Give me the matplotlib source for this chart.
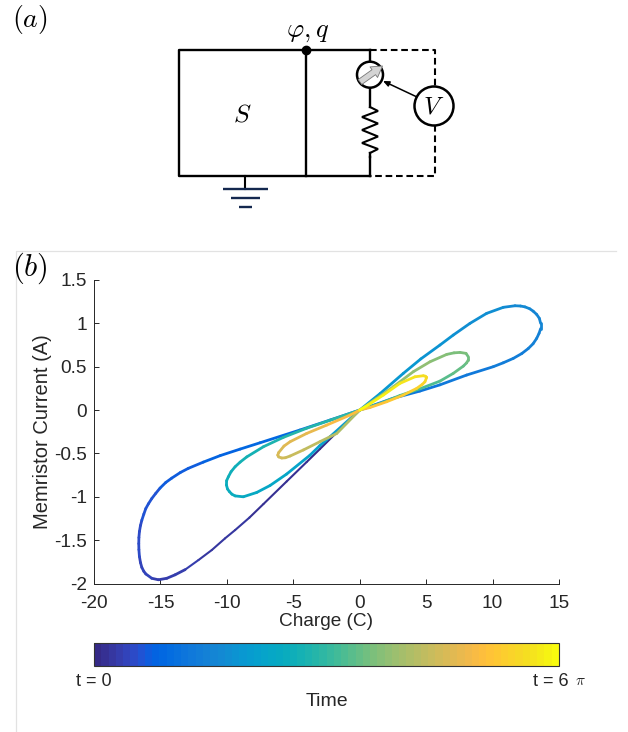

# Memristor pinched hysteresis: circuit sketch (a) and charge/current loop (b)
import numpy as np
import matplotlib
matplotlib.use("Agg")
import matplotlib.pyplot as plt
from matplotlib.cm import ScalarMappable
from matplotlib.collections import LineCollection
from matplotlib.colors import ListedColormap, Normalize
from matplotlib.patches import Circle

plt.rcParams['font.family'] = ['Liberation Sans', 'DejaVu Sans']
plt.rcParams['mathtext.fontset'] = 'cm'

# first half turn, big loop lower left
q1 = [0, -1.5, -3, -4, -5.5, -7.25, -8.3, -9.38, -10.14, -11.14, -12.14, -13.14, -13.9, -14.52, -15.15,
      -15.65, -16.1, -16.25, -16.4, -16.5, -16.58, -16.62, -16.63, -16.62, -16.58, -16.5, -16.4, -16.25,
      -16.1, -15.9, -15.65, -15.35, -15.03, -14.6, -14.15, -13.5, -12.9, -11.77, -10.5, -9, -7.5, -4.5, -2.23, 0]
i1 = [0, -0.223, -0.45, -0.6, -0.823, -1.084, -1.24, -1.384, -1.48, -1.615, -1.73, -1.84, -1.9, -1.94, -1.957,
      -1.94, -1.89, -1.86, -1.815, -1.76, -1.69, -1.61, -1.54, -1.47, -1.4, -1.33, -1.27, -1.2,
      -1.135, -1.08, -1.02, -0.96, -0.9, -0.835, -0.785, -0.72, -0.672, -0.6, -0.525, -0.45, -0.377, -0.23, -0.115, 0]
t1 = [0, 0.03, 0.06, 0.09, 0.12, 0.16, 0.18, 0.2, 0.22, 0.24, 0.27, 0.3, 0.32, 0.34, 0.36,
      0.38, 0.41, 0.42, 0.43, 0.45, 0.46, 0.48, 0.5, 0.51, 0.53, 0.54, 0.56, 0.57,
      0.59, 0.6, 0.62, 0.63, 0.65, 0.67, 0.68, 0.7, 0.72, 0.75, 0.79, 0.83, 0.87, 0.92, 0.96, 1]

# second half turn, big loop upper right
q2 = [2.5, 4.53, 6.04, 8.05, 10.05, 10.8, 11.56, 12.2, 12.69, 13.05, 13.32, 13.5, 13.62, 13.62, 13.52, 13.32,
      13.06, 12.8, 12.44, 12.1, 11.69, 10.81, 9.55, 8.3, 7.04, 6.04, 4.6, 3.28, 1.53, 0]
i2 = [0.135, 0.219, 0.291, 0.404, 0.5, 0.545, 0.596, 0.652, 0.71, 0.765, 0.827, 0.885, 0.94, 1.0, 1.058, 1.103,
      1.14, 1.168, 1.19, 1.2, 1.203, 1.185, 1.115, 1.0, 0.865, 0.75, 0.59, 0.423, 0.19, 0]
t2 = [1.1, 1.17, 1.22, 1.28, 1.33, 1.35, 1.37, 1.39, 1.41, 1.43, 1.45, 1.47, 1.5, 1.52, 1.54, 1.56,
      1.58, 1.59, 1.61, 1.62, 1.64, 1.67, 1.71, 1.75, 1.79, 1.82, 1.86, 1.9, 1.96, 2]

# third half turn, middle loop lower left
q3 = [-2.23, -3, -3.74, -5.5, -6.75, -7.75, -8.76, -9.38, -9.62, -9.81, -9.95, -10.03, -10.02, -9.89, -9.68,
      -9.38, -9, -8.5, -7.25, -5.75, -4, -1.98, 0]
i3 = [-0.307, -0.41, -0.52, -0.738, -0.87, -0.95, -1.0, -0.99, -0.97, -0.94, -0.91, -0.865, -0.815, -0.77, -0.71,
      -0.654, -0.6, -0.54, -0.423, -0.315, -0.21, -0.104, 0]
t3 = [2.1, 2.14, 2.17, 2.25, 2.31, 2.36, 2.41, 2.45, 2.46, 2.48, 2.5, 2.51, 2.53, 2.55, 2.58,
      2.6, 2.63, 2.66, 2.72, 2.79, 2.86, 2.93, 3]

# fourth half turn, middle loop upper right
q4 = [1.53, 3.03, 4.53, 6.04, 7.04, 7.8, 8.05, 8.17, 8.17, 8.0, 7.55, 7.1, 6.55, 5.29, 4.03, 2.53, 1.28, 0]
i4 = [0.077, 0.168, 0.245, 0.334, 0.423, 0.507, 0.545, 0.577, 0.615, 0.654, 0.665, 0.66, 0.642, 0.557, 0.442, 0.269, 0.135, 0]
t4 = [3.07, 3.14, 3.22, 3.3, 3.37, 3.43, 3.46, 3.48, 3.51, 3.55, 3.59, 3.62, 3.65, 3.72, 3.79, 3.87, 3.94, 4]

# fifth half turn, small loop lower left
q5 = [-1.73, -3, -4.24, -5.24, -5.6, -5.87, -6.1, -6.17, -6.1, -5.7, -5.24, -4, -2.48, -0.73, 0]
i5 = [-0.27, -0.365, -0.46, -0.53, -0.55, -0.553, -0.54, -0.52, -0.49, -0.415, -0.365, -0.27, -0.173, -0.058, 0]
t5 = [4.12, 4.2, 4.29, 4.38, 4.42, 4.45, 4.48, 4.5, 4.52, 4.58, 4.63, 4.72, 4.83, 4.95, 5]

# last half turn, small loop upper right
q6 = [0.78, 2.03, 3.28, 4.29, 4.7, 4.91, 5.04, 4.95, 4.79, 4.16, 3.03, 1.78, 0.63, 0]
i6 = [0.03, 0.096, 0.173, 0.25, 0.295, 0.326, 0.377, 0.39, 0.396, 0.384, 0.308, 0.173, 0.058, 0]
t6 = [5.05, 5.15, 5.25, 5.35, 5.4, 5.44, 5.5, 5.53, 5.55, 5.62, 5.72, 5.83, 5.94, 6]

x_ticks = [-20, -15, -10, -5, 0, 5, 10, 15]
x_tick_labels = ['-20', '-15', '-10', '-5', '0', '5', '10', '15']
y_ticks = [-2, -1.5, -1, -0.5, 0, 0.5, 1, 1.5]
y_tick_labels = ['-2', '-1.5', '-1', '-0.5', '0', '0.5', '1', '1.5']

# colormap of the time bar, 64 levels
parula = [
    (0.2081, 0.1663, 0.5292), (0.2116, 0.1898, 0.5777), (0.2123, 0.2138, 0.6270), (0.2081, 0.2386, 0.6771),
    (0.1959, 0.2645, 0.7279), (0.1707, 0.2919, 0.7792), (0.1253, 0.3242, 0.8303), (0.0591, 0.3598, 0.8683),
    (0.0117, 0.3875, 0.8820), (0.0060, 0.4086, 0.8828), (0.0165, 0.4266, 0.8786), (0.0329, 0.4430, 0.8720),
    (0.0498, 0.4586, 0.8641), (0.0629, 0.4737, 0.8554), (0.0723, 0.4887, 0.8467), (0.0779, 0.5040, 0.8384),
    (0.0793, 0.5200, 0.8312), (0.0749, 0.5375, 0.8263), (0.0641, 0.5570, 0.8240), (0.0488, 0.5772, 0.8228),
    (0.0343, 0.5966, 0.8199), (0.0265, 0.6137, 0.8135), (0.0239, 0.6287, 0.8038), (0.0231, 0.6418, 0.7913),
    (0.0228, 0.6535, 0.7768), (0.0267, 0.6642, 0.7607), (0.0384, 0.6743, 0.7436), (0.0590, 0.6838, 0.7254),
    (0.0843, 0.6928, 0.7062), (0.1133, 0.7015, 0.6859), (0.1453, 0.7098, 0.6646), (0.1801, 0.7177, 0.6424),
    (0.2178, 0.7250, 0.6193), (0.2586, 0.7317, 0.5954), (0.3022, 0.7376, 0.5712), (0.3482, 0.7424, 0.5473),
    (0.3953, 0.7459, 0.5244), (0.4420, 0.7481, 0.5033), (0.4871, 0.7491, 0.4840), (0.5300, 0.7491, 0.4661),
    (0.5709, 0.7485, 0.4494), (0.6099, 0.7473, 0.4337), (0.6473, 0.7456, 0.4188), (0.6834, 0.7435, 0.4044),
    (0.7184, 0.7411, 0.3905), (0.7525, 0.7384, 0.3768), (0.7858, 0.7356, 0.3633), (0.8185, 0.7327, 0.3498),
    (0.8507, 0.7299, 0.3360), (0.8824, 0.7274, 0.3217), (0.9139, 0.7258, 0.3063), (0.9450, 0.7261, 0.2886),
    (0.9739, 0.7314, 0.2666), (0.9938, 0.7455, 0.2403), (0.9990, 0.7653, 0.2164), (0.9955, 0.7861, 0.1967),
    (0.9880, 0.8066, 0.1794), (0.9789, 0.8271, 0.1633), (0.9697, 0.8481, 0.1475), (0.9626, 0.8705, 0.1309),
    (0.9589, 0.8949, 0.1132), (0.9598, 0.9218, 0.0948), (0.9661, 0.9514, 0.0755), (0.9763, 0.9831, 0.0538),
]
cmap = ListedColormap(parula)
norm = Normalize(0, 6)

W, H = 628, 732
DARK = '#262626'
fig = plt.figure(figsize=(W / 100, H / 100), dpi=100)


def px_axes(left, top, right, bottom):
    return fig.add_axes([left / W, 1 - bottom / H, (right - left) / W, (bottom - top) / H])


# page layer in pixel coordinates, holds the circuit and the free labels
page = fig.add_axes([0, 0, 1, 1])
page.set_xlim(0, W)
page.set_ylim(H, 0)
page.axis('off')

page.plot([616, 16, 16], [251, 251, H], color='#e2e2e2', lw=0.9)

wire = dict(color='black', lw=1.7, solid_capstyle='projecting')
page.plot([370, 179, 179, 370], [49.5, 49.5, 175.5, 175.5], **wire)
page.plot([306, 306], [49.5, 175.5], **wire)
page.plot([370, 370], [49.5, 62], **wire)
page.plot([370, 370], [87, 107], **wire)
page.plot([370, 370], [157, 175.5], **wire)
zig_x = [370, 378, 362, 378, 362, 378, 362, 378, 370]
zig_y = [107, 111, 117, 123.5, 130, 136.5, 143, 149, 153]
page.plot(zig_x, zig_y, color='black', lw=1.5, solid_joinstyle='miter')
page.plot([370, 370], [153, 157], **wire)

dash = dict(color='black', lw=1.5, ls=(0, (3.2, 1.8)))
page.plot([370, 434.5, 434.5], [49.5, 49.5, 87], **dash)
page.plot([434.5, 434.5, 370], [125, 175.5, 175.5], **dash)

page.scatter([306], [49.5], s=36, color='black', zorder=5)

page.add_patch(Circle((370, 74.7), 13, fc='white', ec='black', lw=1.8, zorder=3))
page.add_patch(Circle((434, 106), 19.5, fc='white', ec='black', lw=1.8, zorder=3))
page.annotate('', xy=(382.5, 66), xytext=(360, 82), zorder=4,
              arrowprops=dict(arrowstyle='simple,head_width=0.85,head_length=0.7,tail_width=0.4',
                              mutation_scale=11, fc='#d4d4d4', ec='#777777', lw=0.6, shrinkA=0, shrinkB=0))
page.annotate('', xy=(383, 81), xytext=(417, 97), zorder=4,
              arrowprops=dict(arrowstyle='-|>,head_width=0.16,head_length=0.36', color='black', lw=1.1,
                              shrinkA=0, shrinkB=0))

page.plot([245.3, 245.3], [175.5, 188.7], color='black', lw=1.5)
for gy, gx0, gx1 in [(188.7, 223, 268), (198, 231, 259.5), (207, 238.7, 251.7)]:
    page.plot([gx0, gx1], [gy, gy], color='#14284f', lw=1.7, solid_capstyle='butt')

page.text(30, 19, r'$(a)$', fontsize=20, ha='center', va='center')
page.text(30, 268, r'$(b)$', fontsize=22, ha='center', va='center')
page.text(307.5, 32, r'$\varphi,q$', fontsize=19, ha='center', va='center')
page.text(242, 115, r'$S$', fontsize=18.5, ha='center', va='center')
page.text(434, 106, r'$V$', fontsize=18, ha='center', va='center', zorder=5)

# loop plot
ax = px_axes(94, 280, 559, 583.5)
q = np.array(q1 + q2 + q3 + q4 + q5 + q6, dtype=float)
cur = np.array(i1 + i2 + i3 + i4 + i5 + i6, dtype=float)
time = np.array(t1 + t2 + t3 + t4 + t5 + t6, dtype=float)
pts = np.column_stack([q, cur])
segs = np.stack([pts[:-1], pts[1:]], axis=1)
seg_time = 0.5 * (time[:-1] + time[1:])
# the line starts out thinner than the rest
widths = np.where(seg_time < 0.3, 1.5, 2.0)
lc = LineCollection(segs, cmap=cmap, norm=norm, linewidths=widths, capstyle='round', joinstyle='round')
lc.set_array(seg_time)
ax.add_collection(lc)

ax.set_xlim(-20, 15)
ax.set_ylim(-2, 1.5)
ax.set_xticks(x_ticks)
ax.set_xticklabels(x_tick_labels)
ax.set_yticks(y_ticks)
ax.set_yticklabels(y_tick_labels)
ax.spines['top'].set_visible(False)
ax.spines['right'].set_visible(False)
for side in ['left', 'bottom']:
    ax.spines[side].set_color(DARK)
    ax.spines[side].set_linewidth(0.7)
ax.tick_params(direction='in', length=3.6, width=0.7, color=DARK, labelcolor=DARK, labelsize=13.7)
ax.tick_params(axis='x', pad=8)
ax.tick_params(axis='y', pad=5)
ax.patch.set_alpha(0)

page.text(326, 621, 'Charge (C)', fontsize=13.7, color=DARK, ha='center', va='center')
page.text(43, 432, 'Memristor Current (A)', fontsize=14.5, color=DARK, ha='center', va='center', rotation=90)

# time bar
cax = px_axes(94, 643, 559, 666)
cb = fig.colorbar(ScalarMappable(norm=norm, cmap=cmap), cax=cax, orientation='horizontal')
cb.set_ticks([])
cb.outline.set_edgecolor('#333333')
cb.outline.set_linewidth(0.8)

page.text(94, 681.5, 't = 0', fontsize=13, color=DARK, ha='center', va='center')
page.text(550.5, 681.5, 't = 6', fontsize=13, color=DARK, ha='center', va='center')
page.text(580, 681.5, r'$\pi$', fontsize=11, color=DARK, ha='center', va='center')
page.text(326.5, 702, 'Time', fontsize=14, color=DARK, ha='center', va='center')

fig.savefig('out.png', dpi=100)
